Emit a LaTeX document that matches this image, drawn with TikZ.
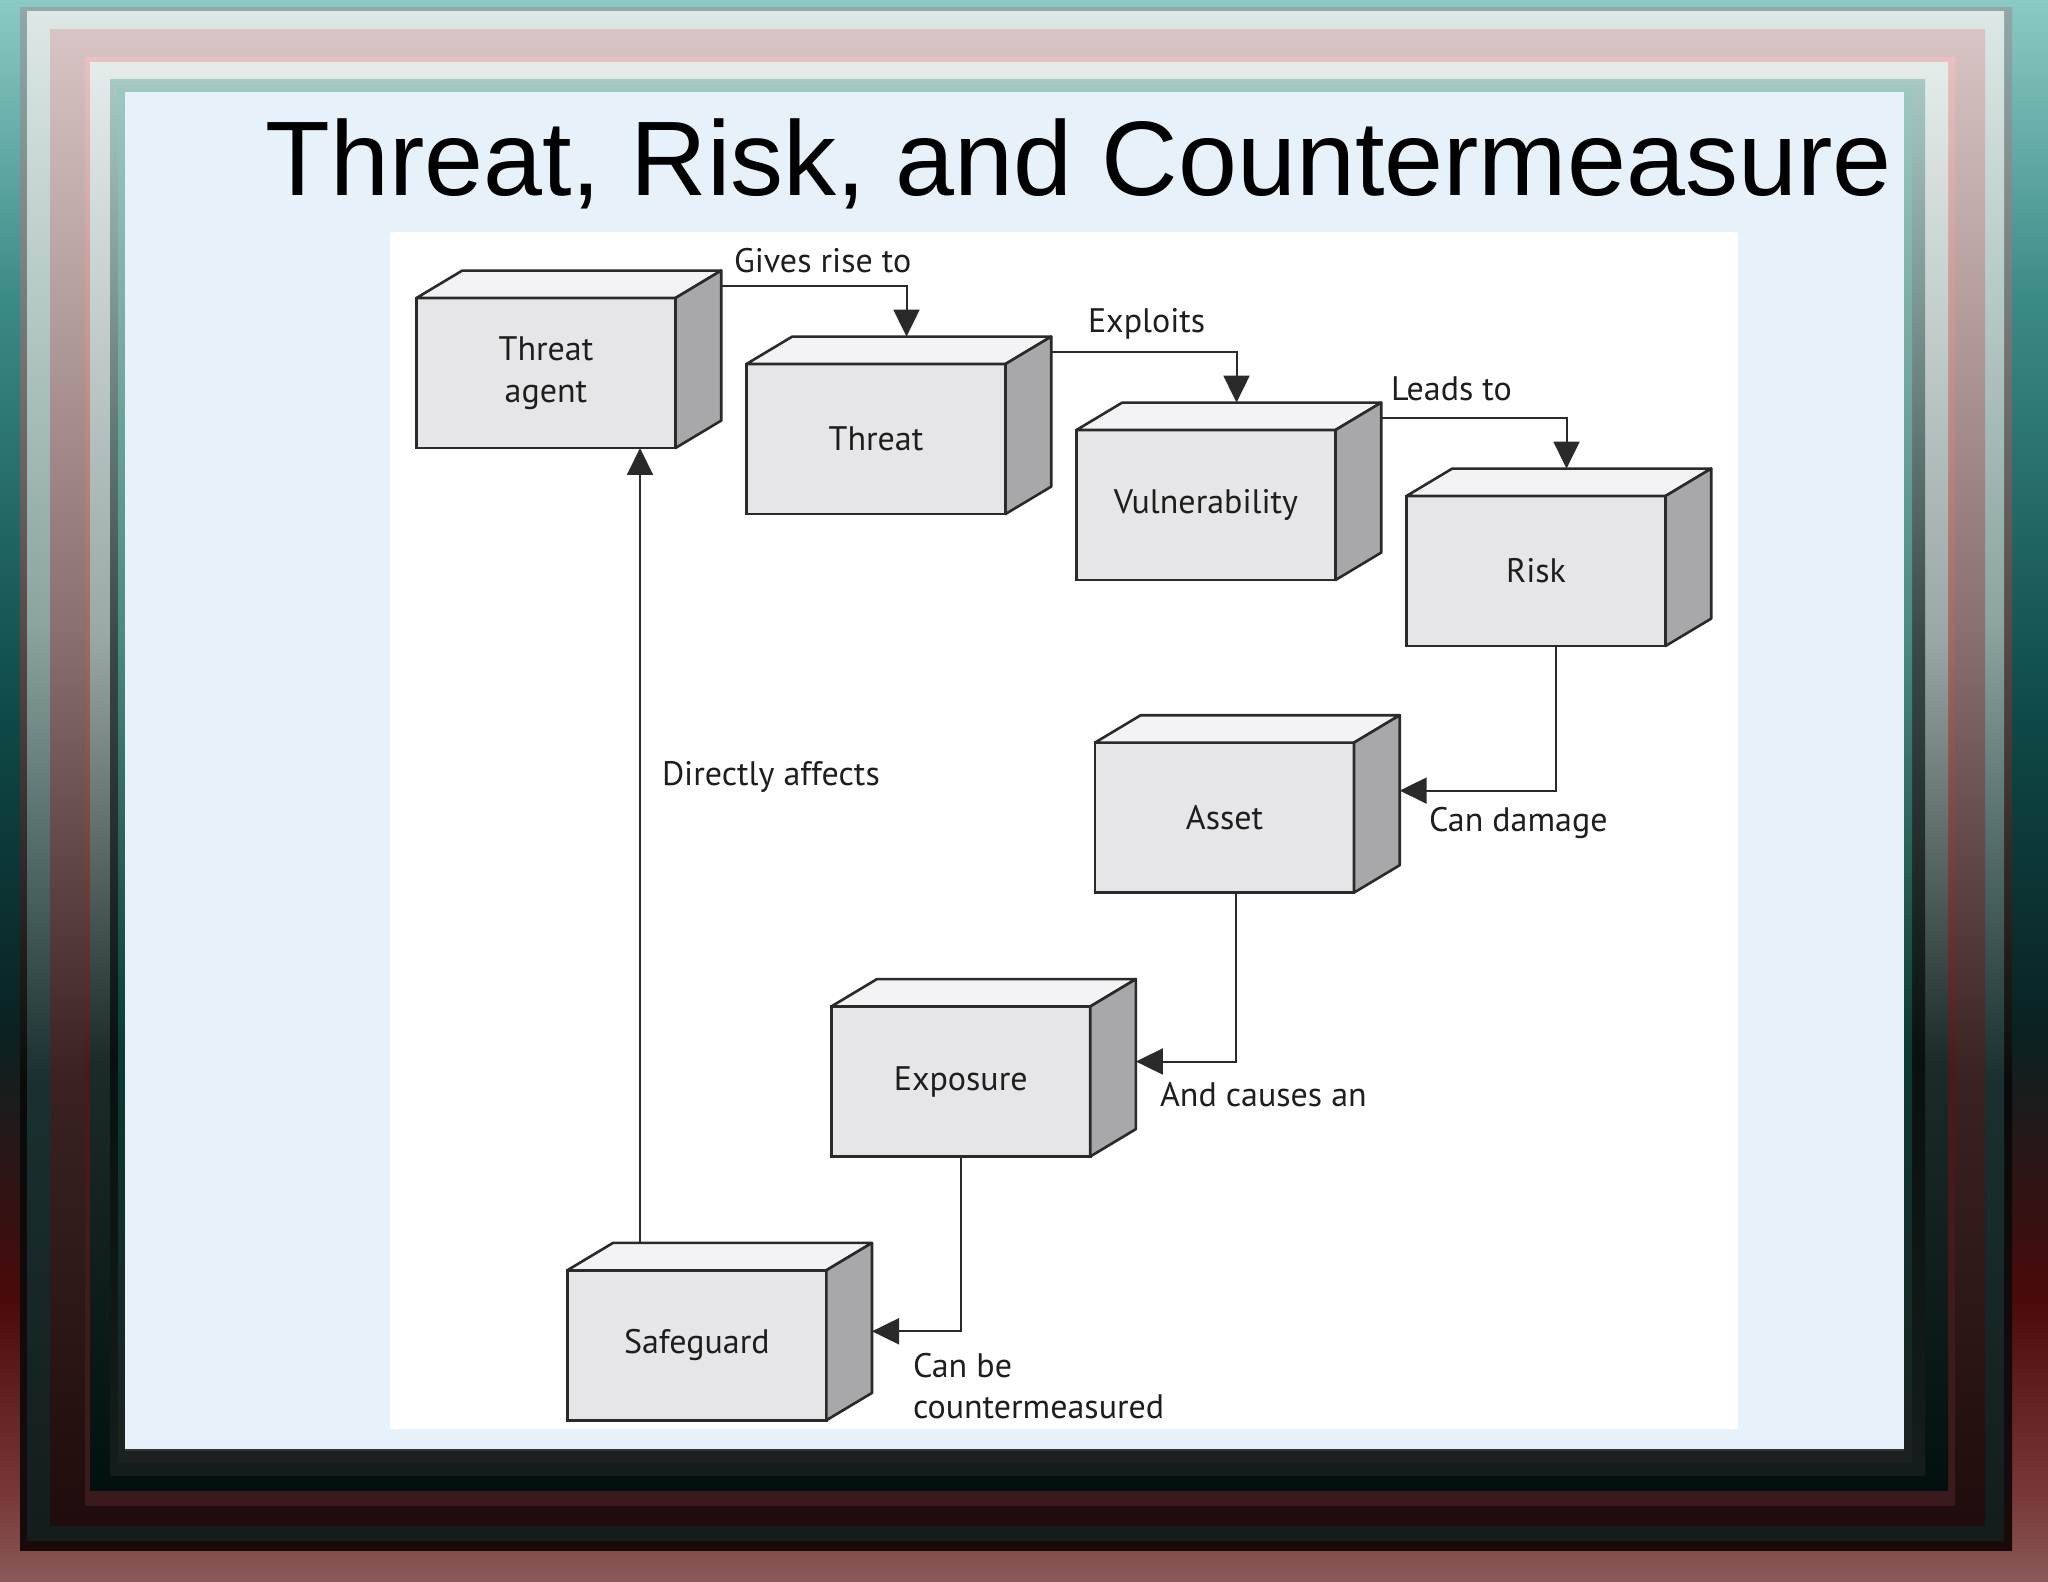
\documentclass[tikz,border=0pt]{standalone}
\usepackage{fontspec}
\setmainfont{Liberation Sans}
\newfontfamily\gillfont{PT Sans}
\usetikzlibrary{arrows.meta,calc}
\definecolor{frontgray}{HTML}{E6E5E8}
\definecolor{topgray}{HTML}{F3F3F5}
\definecolor{sidegray}{HTML}{A8A8AB}
\definecolor{edgecol}{HTML}{2A2A2A}
\definecolor{txt}{HTML}{1E1E1E}
\definecolor{panel}{HTML}{E6F1FA}
% outer band colours
\definecolor{oa}{HTML}{8CCAC4}\definecolor{ob}{HTML}{3A8A86}\definecolor{oc}{HTML}{0E4A48}
\definecolor{od}{HTML}{0A2222}\definecolor{oe}{HTML}{4A0A0A}\definecolor{of}{HTML}{7A3A3A}
\definecolor{og}{HTML}{8A5A5A}
\pgfdeclareverticalshading{outerband}{100bp}{color(0bp)=(og); color(25bp)=(og);
  color(27.5bp)=(of); color(34bp)=(oe); color(42.5bp)=(od); color(52.5bp)=(oc);
  color(65.5bp)=(ob); color(75bp)=(oa); color(100bp)=(oa)}
\newcommand\bandshade[5]{%
  \pgfdeclareverticalshading{#1}{100bp}{color(0bp)=(#5); color(25bp)=(#5);
    color(40bp)=(#4); color(55bp)=(#3); color(75bp)=(#2); color(100bp)=(#2)}}
\definecolor{b2a}{HTML}{90A8A8}\definecolor{b2b}{HTML}{5A4A4A}\definecolor{b2c}{HTML}{0A0A0A}\definecolor{b2d}{HTML}{1A0A0A}
\definecolor{b3a}{HTML}{DCE8E6}\definecolor{b3b}{HTML}{8AA5A0}\definecolor{b3c}{HTML}{1A3030}\definecolor{b3d}{HTML}{141C1C}
\definecolor{b4a}{HTML}{D8C4C4}\definecolor{b4b}{HTML}{8A7070}\definecolor{b4c}{HTML}{3A2222}\definecolor{b4d}{HTML}{200C0C}
\definecolor{b5a}{HTML}{E8C0C0}\definecolor{b5b}{HTML}{A06A66}\definecolor{b5c}{HTML}{4A1A1A}\definecolor{b5d}{HTML}{3A1A1C}
\definecolor{b6a}{HTML}{E4ECEA}\definecolor{b6b}{HTML}{9AA8A8}\definecolor{b6c}{HTML}{1C2A2A}\definecolor{b6d}{HTML}{021010}
\definecolor{b7a}{HTML}{A8C8C4}\definecolor{b7b}{HTML}{3A4A48}\definecolor{b7c}{HTML}{0A1010}\definecolor{b7d}{HTML}{141C1C}
\definecolor{b8a}{HTML}{9CC8C0}\definecolor{b8b}{HTML}{4A8A80}\definecolor{b8c}{HTML}{0A3A34}\definecolor{b8d}{HTML}{1C2020}
\bandshade{band2}{b2a}{b2b}{b2c}{b2d}
\bandshade{band3}{b3a}{b3b}{b3c}{b3d}
\bandshade{band4}{b4a}{b4b}{b4c}{b4d}
\bandshade{band5}{b5a}{b5b}{b5c}{b5d}
\bandshade{band6}{b6a}{b6b}{b6c}{b6d}
\bandshade{band7}{b7a}{b7b}{b7c}{b7d}
\bandshade{band8}{b8a}{b8b}{b8c}{b8d}
\tikzset{
  face/.style={draw=edgecol, line width=1.3pt, fill=frontgray, minimum width=129.5pt,
    minimum height=75pt, inner sep=0pt, outer sep=0pt, align=center,
    font=\gillfont\fontsize{17}{21}\selectfont, text=txt},
  facepart/.style={draw=edgecol, line width=1.3pt, line join=round},
  lbl/.style={anchor=west, inner sep=0pt, outer sep=0pt, align=left,
    font=\gillfont\fontsize{17}{20.8}\selectfont, text=txt},
  conn/.style={line width=1pt, draw=edgecol, -{Triangle[length=13.5pt,width=13pt]}},
}
\newcommand\threebox[4]{%
  \node[face] (#1) at (#2,#3) {#4};
  \draw[facepart, fill=topgray] (#1.north west) -- ++(45.7,-27.4)
     -- ([shift={(45.7,-27.4)}]#1.north east) -- (#1.north east) -- cycle;
  \draw[facepart, fill=sidegray] (#1.north east) -- ++(45.7,-27.4)
     -- ([shift={(45.7,-27.4)}]#1.south east) -- (#1.south east) -- cycle;
}
\begin{document}
\begin{tikzpicture}[x=0.5pt,y=-0.5pt]
\useasboundingbox (0,0) rectangle (2048,1582);
% frame bands
\shade[shading=outerband] (0,0) rectangle (2048,1582);
\shade[shading=band2] (20,8) rectangle (2012,1550);
\shade[shading=band3] (27,12) rectangle (2004,1540);
\shade[shading=band4] (50,30) rectangle (1985,1525);
\shade[shading=band5] (85,58) rectangle (1955,1505);
\shade[shading=band6] (90,63) rectangle (1948,1490);
\shade[shading=band7] (110,80) rectangle (1925,1475);
\shade[shading=band8] (118,88) rectangle (1912,1462);
% panel
\fill[panel] (125,92) rectangle (1904,1450);
\draw[line width=1pt, black!80] (125,1450) -- (1904,1450);
\fill[white] (390,232) rectangle (1738,1429);
% title
\node[anchor=base west, inner sep=0pt, font=\fontsize{53}{60}\selectfont] (title) at (265,196) {Threat, Risk, and Countermeasure};
% boxes
\threebox{ta}{546}{373}{Threat\\agent}
\threebox{th}{876}{439}{Threat}
\threebox{vu}{1206}{505}{Vulnerability}
\threebox{ri}{1536}{571}{Risk}
\threebox{as}{1224.5}{817.6}{Asset}
\threebox{ex}{960.7}{1081.5}{Exposure}
\threebox{sg}{696.8}{1345.3}{Safeguard}
% connectors
\draw[conn] ([shift={(45.7,-12)}]ta.north east) -| ([shift={(160,-27.4)}]th.north west);
\draw[conn] ([shift={(45.7,-12)}]th.north east) -| ([shift={(160,-27.4)}]vu.north west);
\draw[conn] ([shift={(45.7,-12)}]vu.north east) -| ([shift={(160,-27.4)}]ri.north west);
\draw[conn] ([shift={(20,0)}]ri.south) |- ([shift={(45.7,-27)}]as.east);
\draw[conn] ([shift={(11,0)}]as.south) |- ([shift={(45.7,-20)}]ex.east);
\draw[conn] (ex.south) |- ([shift={(45.7,-14)}]sg.east);
\draw[conn] ([shift={(-56.8,-27.4)}]sg.north) coordinate (sgtop) -- (sgtop |- ta.south);
% labels
\node[lbl] (l1) at (734,261) {Gives rise to};
\node[lbl] (l2) at (1088,324) {Exploits};
\node[lbl] (l3) at (1391,389) {Leads to};
\node[lbl] (l4) at (1429,823) {Can damage};
\node[lbl] (l5) at (1160,1094.5) {And causes an};
\node[lbl] (l6) at (913,1386) {Can be\\countermeasured};
\node[lbl] (l7) at (662,777) {Directly affects};
\end{tikzpicture}
\end{document}
